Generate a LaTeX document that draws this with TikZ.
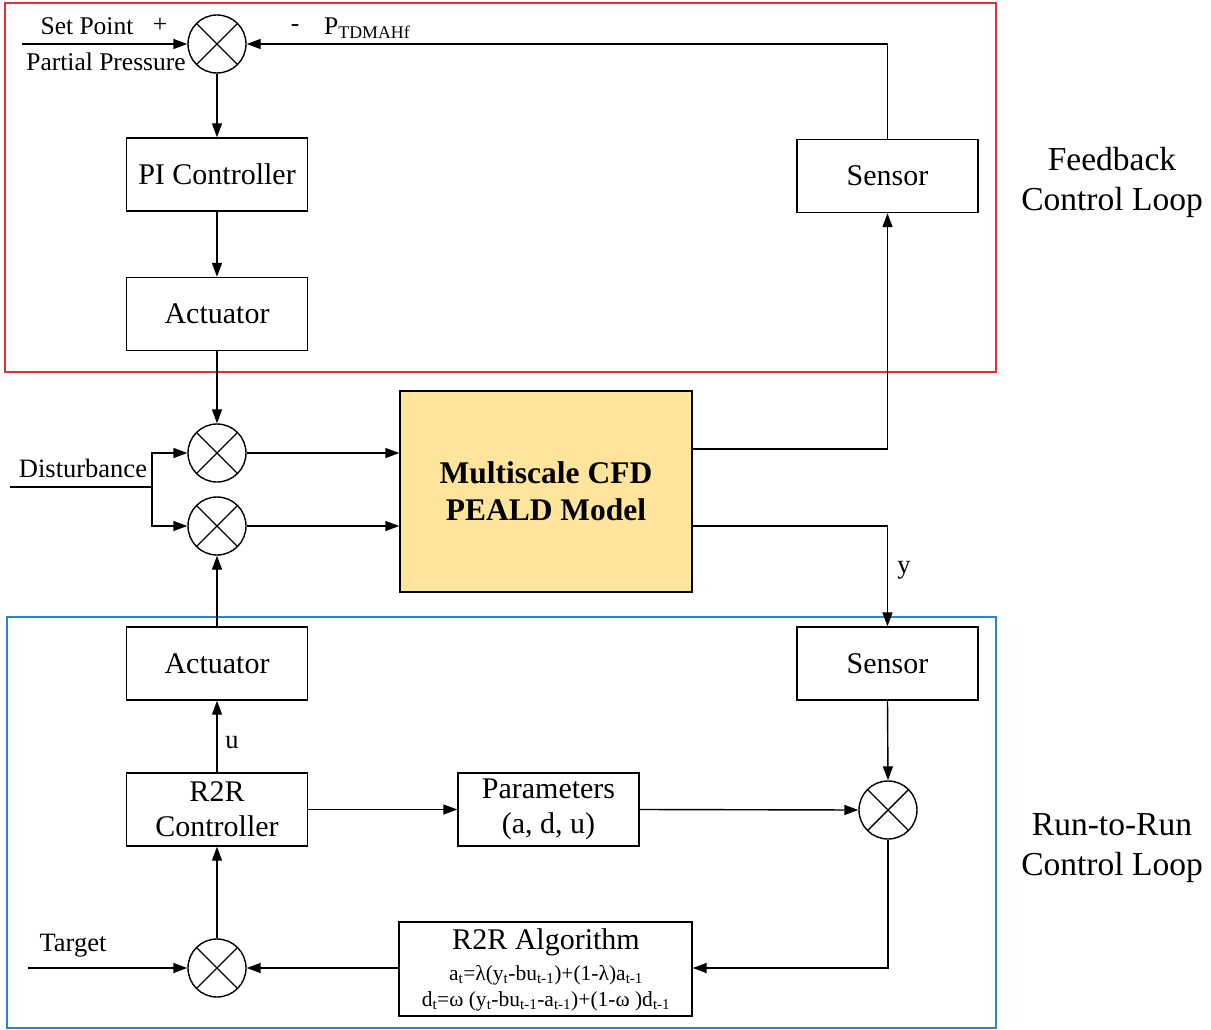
\documentclass[tikz,border=0pt]{standalone}
\usepackage{fontspec}
\setmainfont{Liberation Serif}
\usetikzlibrary{arrows.meta,calc}
\definecolor{loopred}{RGB}{214,52,56}
\definecolor{loopblue}{RGB}{46,132,198}
\definecolor{modelfill}{RGB}{255,228,155}
\begin{document}
\begin{tikzpicture}[x=1pt,y=-1pt,
  block/.style={draw,line width=1.4pt,minimum width=181pt,minimum height=73pt,align=center,inner sep=0pt,font=\fontsize{30}{35}\selectfont},
  sumj/.style={draw,circle,line width=1.4pt,minimum size=58pt,inner sep=0pt,
    path picture={\draw[line width=1.4pt] (path picture bounding box.north west) -- (path picture bounding box.south east)
      (path picture bounding box.north east) -- (path picture bounding box.south west);}},
  arr/.style={line width=1.4pt,-{Triangle[length=14pt,width=10pt]}},
  conn/.style={line width=1.4pt},
  lbl/.style={inner sep=0pt,font=\fontsize{25.5}{28}\selectfont},
  lblb/.style={inner sep=0pt,font=\fontsize{26.5}{30}\selectfont},
  side/.style={align=center,inner sep=0pt,font=\fontsize{33.5}{40}\selectfont}]
\useasboundingbox (0,0) rectangle (1211,1030);
\fill[white] (0,0) rectangle (1211,1030);
% loop frames
\draw[loopred,line width=1.8pt] (5,3) rectangle (996,372);
\draw[loopblue,line width=1.8pt] (7,617) rectangle (996,1028);
% blocks
\node[block] (pi) at (217,174.5) {PI Controller};
\node[block] (act1) at (217,314) {Actuator};
\node[block] (sens1) at (887.5,176) {Sensor};
\node[block,fill=modelfill,minimum width=292pt,minimum height=201pt,font=\fontsize{31.5}{37}\selectfont\bfseries] (model) at (546,491.5) {Multiscale CFD\\PEALD Model};
\node[block] (act2) at (217,663.5) {Actuator};
\node[block] (sens2) at (887.5,663.5) {Sensor};
\node[block] (r2r) at (217,809.5) {R2R\\Controller};
\node[block] (param) at (548.5,809.5) {Parameters\\(a, d, u)};
\node[block,minimum width=293pt,minimum height=94pt] (alg) at (545.5,969) {};
\node[inner sep=0pt,font=\fontsize{30}{33}\selectfont] (algt) at (546,942) {R2R Algorithm};
\node[inner sep=0pt,align=center,font=\fontsize{21.5}{26}\selectfont] (algf) at (546,988) {a\textsubscript{t}=λ(y\textsubscript{t}-bu\textsubscript{t-1})+(1-λ)a\textsubscript{t-1}\\d\textsubscript{t}=ω (y\textsubscript{t}-bu\textsubscript{t-1}-a\textsubscript{t-1})+(1-ω )d\textsubscript{t-1}};
% summing junctions
\node[sumj] (s1) at (217,44) {};
\node[sumj] (s2) at (217,453) {};
\node[sumj] (s3) at (217,526) {};
\node[sumj] (s4) at (888,810) {};
\node[sumj] (s5) at (217,968) {};
% free ends
\coordinate (setin) at (22,44);
\coordinate (distin) at (10,487);
\coordinate (branch) at (152,487);
\coordinate (targin) at (28,968);
% connectors
\draw[arr] (setin) -- (s1.west);
\draw[arr] (sens1.north) |- (s1.east);
\draw[arr] (s1.south) -- (pi.north);
\draw[arr] (pi.south) -- (act1.north);
\draw[arr] (act1.south) -- (s2.north);
\draw[conn] (distin) -- (branch);
\draw[arr] (branch) |- (s2.west);
\draw[arr] (branch) |- (s3.west);
\draw[arr] (s2.east) -- (model.west |- s2);
\draw[arr] (s3.east) -- (model.west |- s3);
\draw[arr] (model.east |- 0,449) -| (sens1.south);
\draw[arr] (model.east |- 0,526) -| (sens2.north);
\draw[arr] (act2.north) -- (s3.south);
\draw[arr] (r2r.north) -- (act2.south);
\draw[arr] (s5.north) -- (r2r.south);
\draw[arr] (r2r.east) -- (param.west);
\draw[arr] (param.east) -- (s4.west);
\draw[arr] (sens2.south) -- (s4.north);
\draw[arr] (s4.south) |- (alg.east |- s5);
\draw[arr] (alg.west |- s5) -- (s5.east);
\draw[arr] (targin) -- (s5.west);
% labels
\node[lbl] (lsp) at (87,26) {Set Point};
\node[lbl] (lplus) at (160,25) {+};
\node[lbl] (lpp) at (106,62) {Partial Pressure};
\node[lbl] (lminus) at (295,28) {-};
\node[lbl,anchor=west] (lp) at (324,28) {P\textsubscript{TDMAHf}};
\node[lblb] (ldist) at (83,468) {Disturbance};
\node[lblb] (ltarget) at (73,946) {Target};
\node[lblb] (lu) at (232,743) {u};
\node[lblb] (ly) at (904,570) {y};
\node[side] (fb) at (1112,182) {Feedback\\Control Loop};
\node[side] (rr) at (1112,848) {Run-to-Run\\Control Loop};
\end{tikzpicture}
\end{document}
